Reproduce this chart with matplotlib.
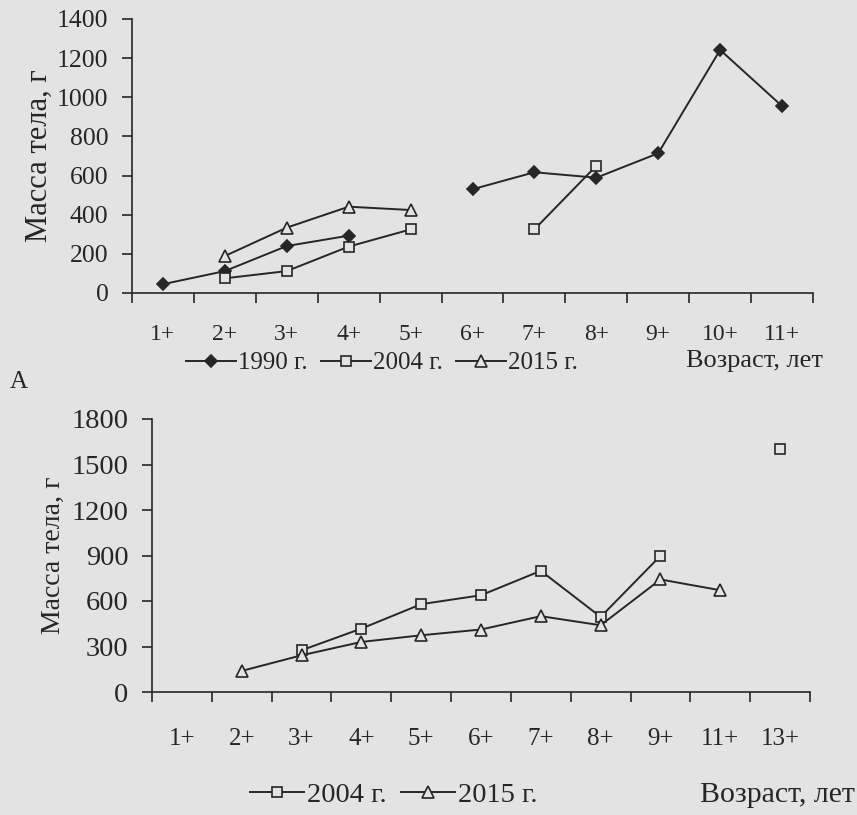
import numpy as np
import matplotlib
matplotlib.use('Agg')
from matplotlib import pyplot as plt

nan = np.nan

# Top panel: ages 1+ .. 11+
ages_top = ['1+', '2+', '3+', '4+', '5+', '6+', '7+', '8+', '9+', '10+', '11+']
mass_1990 = [45, 112, 240, 293, nan, 530, 617, 589, 714, 1242, 955]
mass_2004_top = [nan, 75, 112, 237, 325, nan, 325, 650, nan, nan, nan]
mass_2015_top = [nan, 189, 334, 441, 424, nan, nan, nan, nan, nan, nan]
yticks_top = [0, 200, 400, 600, 800, 1000, 1200, 1400]

# Bottom panel: ages 1+ .. 13+
ages_bot = ['1+', '2+', '3+', '4+', '5+', '6+', '7+', '8+', '9+', '11+', '13+']
mass_2004_bot = [nan, nan, 275, 418, 579, 638, 799, 495, 898, nan, 1600]
mass_2015_bot = [nan, 139, 242, 330, 374, 412, 500, 440, 742, 671, nan]
yticks_bot = [0, 300, 600, 900, 1200, 1500, 1800]

bg = '#e3e3e3'
ink = '#262626'
plt.rcParams['font.family'] = ['Liberation Serif', 'DejaVu Serif']

W, H = 857, 815
fig = plt.figure(figsize=(W / 100, H / 100), dpi=100, facecolor=bg)


def px_axes(left, right, top, bottom):
    return fig.add_axes([left / W, 1 - bottom / H, (right - left) / W, (bottom - top) / H])


def style(ax, labels, yticks, xpad, yfs, xfs):
    n = len(labels)
    ax.set_facecolor(bg)
    ax.set_xlim(-0.5, n - 0.5)
    ax.set_ylim(0, yticks[-1])
    for s in ['top', 'right']:
        ax.spines[s].set_visible(False)
    for s in ['left', 'bottom']:
        ax.spines[s].set_color(ink)
        ax.spines[s].set_linewidth(1.2)
    ax.set_xticks(np.arange(n + 1) - 0.5)
    ax.set_xticklabels([])
    ax.set_xticks(np.arange(n), minor=True)
    ax.set_xticklabels(labels, minor=True, fontsize=xfs, color=ink)
    ax.tick_params(axis='x', which='major', direction='out', length=7, width=1.2, color=ink)
    ax.tick_params(axis='x', which='minor', length=0, pad=xpad)
    ax.set_yticks(yticks)
    ax.set_yticklabels([str(v) for v in yticks], fontsize=yfs, color=ink)
    ax.tick_params(axis='y', direction='out', length=7, width=1.2, color=ink, pad=10)


def series(ax, values, marker, ms, filled, label=None):
    x = np.arange(len(values))
    ax.plot(x, values, color=ink, lw=1.4, marker=marker, ms=ms,
            mfc=ink if filled else bg, mec=ink, mew=1.2, label=label, clip_on=False)


mk = dict(diamond=('D', 6.5, True), square=('s', 7, False), triangle=('^', 8, False))

# ---- top panel
ax1 = px_axes(132, 813, 19, 293)
style(ax1, ages_top, yticks_top, 22, 18.5, 17)
series(ax1, mass_1990, *mk['diamond'], label='1990 г.')
series(ax1, mass_2004_top, *mk['square'], label='2004 г.')
series(ax1, mass_2015_top, *mk['triangle'], label='2015 г.')
ax1.set_ylabel('Масса тела, г', fontsize=22, color=ink, labelpad=2)
ax1.legend(loc='center left', bbox_to_anchor=(186 / W, 1 - 363 / H), bbox_transform=fig.transFigure,
           ncol=3, frameon=False, fontsize=18, handlelength=2.0, handletextpad=0.1,
           columnspacing=0.5, borderaxespad=0, borderpad=0, labelcolor=ink)
fig.text(823 / W, 1 - 361 / H, 'Возраст, лет', fontsize=19, ha='right', va='center', color=ink)
fig.text(10 / W, 1 - 382 / H, 'А', fontsize=18, ha='left', va='center', color=ink)

# ---- bottom panel
ax2 = px_axes(152, 810, 419, 692)
style(ax2, ages_bot, yticks_bot, 26, 20.5, 18)
series(ax2, mass_2004_bot, *mk['square'], label='2004 г.')
series(ax2, mass_2015_bot, *mk['triangle'], label='2015 г.')
ax2.set_ylabel('Масса тела, г', fontsize=20, color=ink, labelpad=4)
ax2.legend(loc='center left', bbox_to_anchor=(250 / W, 1 - 795 / H), bbox_transform=fig.transFigure,
           ncol=2, frameon=False, fontsize=20.5, handlelength=1.9, handletextpad=0.1,
           columnspacing=0.5, borderaxespad=0, borderpad=0, labelcolor=ink)
fig.text(855 / W, 1 - 795 / H, 'Возраст, лет', fontsize=21.5, ha='right', va='center', color=ink)

fig.savefig('out.png', dpi=100, facecolor=bg)
